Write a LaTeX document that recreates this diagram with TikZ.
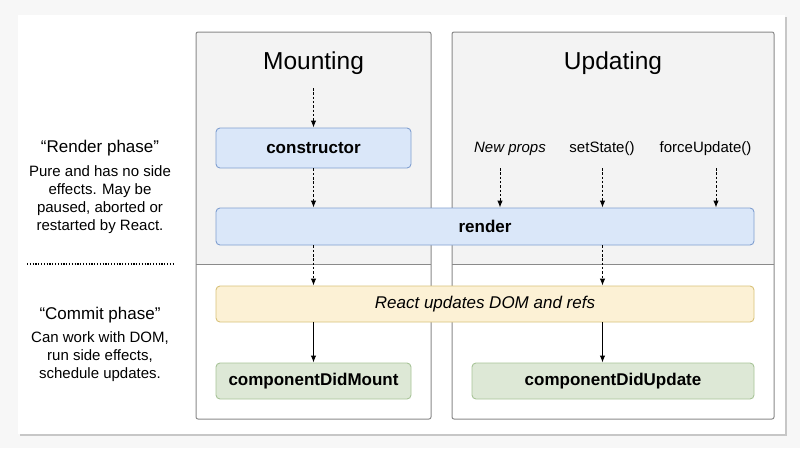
\documentclass[tikz,border=0pt]{standalone}
\usepackage{fontspec}
\setmainfont{Liberation Sans}
\usetikzlibrary{arrows.meta, positioning}

\definecolor{pagebg}{HTML}{F7F7F7}
\definecolor{phasebg}{HTML}{F3F3F3}
\definecolor{phaseline}{HTML}{8A8A8A}
\definecolor{bluefill}{HTML}{DAE7F9}
\definecolor{blueline}{HTML}{809FD0}
\definecolor{yellowfill}{HTML}{FCF1D5}
\definecolor{yellowline}{HTML}{D9C27A}
\definecolor{greenfill}{HTML}{DDE8D6}
\definecolor{greenline}{HTML}{A8C498}

\begin{document}
\begin{tikzpicture}[
  x=1pt, y=-1pt,
  box/.style={draw, rounded corners=4pt, line width=0.9pt, align=center, inner sep=0pt,
    font=\fontsize{17}{20}\selectfont},
  lifebox/.style={box, fill=bluefill, draw=blueline, font=\fontsize{17}{20}\selectfont\bfseries},
  dombox/.style={box, fill=yellowfill, draw=yellowline, font=\fontsize{17}{20}\selectfont\itshape},
  donebox/.style={box, fill=greenfill, draw=greenline, font=\fontsize{17}{20}\selectfont\bfseries},
  title/.style={font=\fontsize{24.5}{28}\selectfont},
  trigger/.style={font=\fontsize{15}{18}\selectfont},
  phase/.style={font=\fontsize{17}{20}\selectfont},
  note/.style={align=center, font=\fontsize{15}{18}\selectfont},
  darr/.style={-{Latex[length=7pt,width=5.5pt]}, line width=1pt, dash pattern=on 2.5pt off 1.8pt},
  arr/.style={-{Latex[length=7pt,width=5.5pt]}, line width=1.1pt}
]
\useasboundingbox (0,0) rectangle (800,448);
\fill[pagebg] (0,0) rectangle (800,448);
% card with shadow
\fill[black!22] (19.5,16.5) rectangle (787,436);
\fill[white] (18,15) rectangle (785,434);

% phase columns
\fill[phasebg] (196,32) rectangle (431,264);
\fill[phasebg] (452,32) rectangle (774,264);
\draw[phaseline, line width=0.9pt] (196,264) -- (431,264);
\draw[phaseline, line width=0.9pt] (452,264) -- (774,264);
\draw[phaseline, line width=1pt, rounded corners=2pt] (196,32) rectangle (431,419);
\draw[phaseline, line width=1pt, rounded corners=2pt] (452,32) rectangle (774,419);

\node[title] (mounting) at (313.5,63) {Mounting};
\node[title] (updating) at (613,63) {Updating};

% boxes
\node[lifebox, minimum width=195pt, minimum height=40pt] (constructor) at (313.5,148) {constructor};
\node[lifebox, minimum width=538pt, minimum height=37pt] (render) at (485,226.5) {render};
\node[dombox, minimum width=538pt, minimum height=36pt] (dom) at (485,304) {React updates DOM and refs};
\node[donebox, minimum width=195pt, minimum height=36pt] (didmount) at (313.5,381) {componentDidMount};
\node[donebox, minimum width=282pt, minimum height=36pt] (didupdate) at (613,381) {componentDidUpdate};

% triggers
\node[trigger, font=\fontsize{15}{18}\selectfont\itshape] (props) at (510,149) {New props};
\node[trigger] (setstate) at (602,149) {setState()};
\node[trigger] (force) at (705.5,149) {forceUpdate()};
\coordinate (mstart) at (313.5,88);
\coordinate (pstart) at (500,168);
\coordinate (sstart) at (602.5,168);
\coordinate (fstart) at (716,168);

% left notes
\node[phase] (renderphase) at (100,148) {“Render phase”};
\node[note] (rendernote) at (100,200) {Pure and has no side\\effects. May be\\paused, aborted or\\restarted by React.};
\node[phase] (commitphase) at (100,315) {“Commit phase”};
\node[note] (commitnote) at (100,357) {Can work with DOM,\\run side effects,\\schedule updates.};
\coordinate (sepl) at (27,264);
\coordinate (sepr) at (175,264);
\draw[line width=1.6pt, dash pattern=on 1.2pt off 1.6pt] (sepl) -- (sepr);

% connectors
\draw[darr] (mstart) -- (constructor.north);
\draw[darr] (constructor.south) -- (constructor.south |- render.north);
\draw[darr] (pstart) -- (pstart |- render.north);
\draw[darr] (sstart) -- (sstart |- render.north);
\draw[darr] (fstart) -- (fstart |- render.north);
\draw[darr] (constructor.south |- render.south) -- (constructor.south |- dom.north);
\draw[darr] (sstart |- render.south) -- (sstart |- dom.north);
\draw[arr] (constructor.south |- dom.south) -- (didmount.north);
\draw[arr] (sstart |- dom.south) -- (sstart |- didupdate.north);
\end{tikzpicture}
\end{document}
